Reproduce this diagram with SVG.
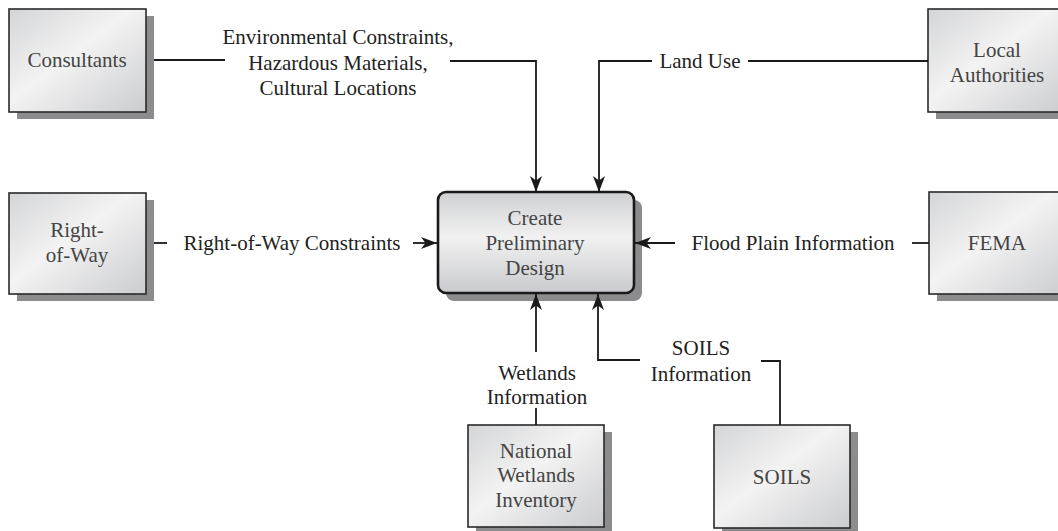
<svg xmlns="http://www.w3.org/2000/svg" width="1058" height="531" viewBox="0 0 1058 531">
<defs>
<linearGradient id="boxGrad" x1="0" y1="0" x2="1" y2="1">
<stop offset="0" stop-color="#d4d5d7"/>
<stop offset="0.45" stop-color="#f3f3f3"/>
<stop offset="1" stop-color="#cbcccf"/>
</linearGradient>
<linearGradient id="procGrad" x1="0" y1="0" x2="0" y2="1">
<stop offset="0" stop-color="#cfd0d2"/>
<stop offset="0.45" stop-color="#f1f1f1"/>
<stop offset="1" stop-color="#c9cacd"/>
</linearGradient>
<marker id="arrow" markerUnits="userSpaceOnUse" markerWidth="16" markerHeight="12" viewBox="0 0 16 12" refX="16" refY="6" orient="auto">
<path d="M0,0 L16,6 L0,12 L4.5,6 Z" fill="#1a1a1a"/>
</marker>
</defs>
<style>
.shadow{fill:#8c8c8e}
.box{fill:url(#boxGrad);stroke:#2a2a2a;stroke-width:1.6}
.proc{fill:url(#procGrad);stroke:#1a1a1a;stroke-width:2.6}
.btxt{font-family:"Liberation Serif",serif;font-size:21px;fill:#444;text-anchor:middle}
.ltxt{font-family:"Liberation Serif",serif;font-size:21px;fill:#222;text-anchor:middle}
.conn{fill:none;stroke:#1a1a1a;stroke-width:1.8}
</style>
<rect width="1058" height="531" fill="#fff"/>

<g id="consultants">
<rect class="shadow" x="17" y="16" width="137" height="103"/>
<rect class="box" x="9" y="9" width="137" height="103"/>
<text class="btxt" x="77" y="67">Consultants</text>
</g>

<g id="local-authorities">
<rect class="shadow" x="936" y="16" width="138" height="103"/>
<rect class="box" x="928" y="9" width="138" height="103"/>
<text class="btxt" x="997" y="57">Local</text>
<text class="btxt" x="997" y="82">Authorities</text>
</g>

<g id="right-of-way">
<rect class="shadow" x="17" y="200" width="137" height="101"/>
<rect class="box" x="9" y="193" width="137" height="101"/>
<text class="btxt" x="77" y="237">Right-</text>
<text class="btxt" x="77" y="262">of-Way</text>
</g>

<g id="fema">
<rect class="shadow" x="937" y="199" width="138" height="102"/>
<rect class="box" x="929" y="192" width="138" height="102"/>
<text class="btxt" x="997" y="250">FEMA</text>
</g>

<g id="nwi">
<rect class="shadow" x="476" y="432" width="136" height="102"/>
<rect class="box" x="468" y="425" width="136" height="102"/>
<text class="btxt" x="536" y="458">National</text>
<text class="btxt" x="536" y="482">Wetlands</text>
<text class="btxt" x="536" y="507">Inventory</text>
</g>

<g id="soils">
<rect class="shadow" x="722" y="432" width="136" height="103"/>
<rect class="box" x="714" y="425" width="136" height="103"/>
<text class="btxt" x="782" y="484">SOILS</text>
</g>

<g id="create-preliminary-design">
<rect class="shadow" x="446" y="200" width="196" height="101" rx="8"/>
<rect class="proc" x="438" y="192" width="196" height="101" rx="8"/>
<text class="btxt" x="535" y="225">Create</text>
<text class="btxt" x="535" y="250">Preliminary</text>
<text class="btxt" x="535" y="275">Design</text>
</g>

<g id="connectors">
<path class="conn" d="M154,60 H225"/>
<path class="conn" d="M450,61 H536 V192" marker-end="url(#arrow)"/>
<path class="conn" d="M928,61 H748"/>
<path class="conn" d="M652,61 H599 V192" marker-end="url(#arrow)"/>
<path class="conn" d="M154,243 H167"/>
<path class="conn" d="M413,243 H437" marker-end="url(#arrow)"/>
<path class="conn" d="M929,243 H912"/>
<path class="conn" d="M675,243 H635" marker-end="url(#arrow)"/>
<path class="conn" d="M536,425 V408"/>
<path class="conn" d="M536,352 V294" marker-end="url(#arrow)"/>
<path class="conn" d="M780,425 V361 H761"/>
<path class="conn" d="M640,360 H598 V294" marker-end="url(#arrow)"/>
</g>

<g id="labels">
<text class="ltxt" x="338" y="44">Environmental Constraints,</text>
<text class="ltxt" x="338" y="70">Hazardous Materials,</text>
<text class="ltxt" x="338" y="95">Cultural Locations</text>
<text class="ltxt" x="700" y="68">Land Use</text>
<text class="ltxt" x="292" y="250">Right-of-Way Constraints</text>
<text class="ltxt" x="793" y="250">Flood Plain Information</text>
<text class="ltxt" x="537" y="380">Wetlands</text>
<text class="ltxt" x="537" y="404">Information</text>
<text class="ltxt" x="701" y="355">SOILS</text>
<text class="ltxt" x="701" y="381">Information</text>
</g>
</svg>
